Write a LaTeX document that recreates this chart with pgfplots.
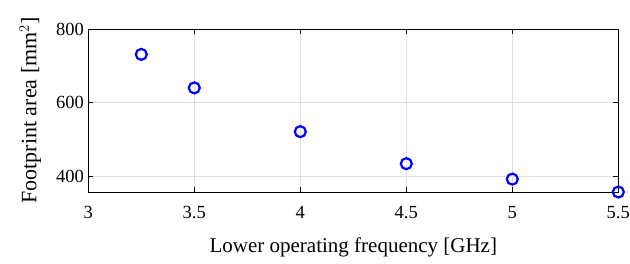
\documentclass[border=0pt]{standalone}
\usepackage{fontspec}
\setmainfont{Liberation Serif}
\usepackage{pgfplots}
\pgfplotsset{compat=1.18}
\begin{document}
\begin{tikzpicture}[x=1pt,y=1pt]
\begin{axis}[
  scale only axis,
  width=530pt, height=163pt,
  xmin=3, xmax=5.5, ymin=357, ymax=800,
  xtick={3,3.5,4,4.5,5,5.5},
  xticklabels={3,3.5,4,4.5,5,5.5},
  ytick={400,600,800},
  tick align=inside,
  major tick length=5pt,
  tick style={black, line width=0.8pt},
  axis line style={black, line width=0.9pt},
  grid=major,
  grid style={gray!25, line width=0.6pt},
  ticklabel style={font=\fontsize{18.5}{18.5}\selectfont},
  /pgf/number format/assume math mode=true,
  xticklabel style={yshift=-11pt},
  yticklabel style={xshift=-1pt},
  xlabel={Lower operating frequency [GHz]},
  ylabel={Footprint area [mm$^{2}$]},
  xlabel style={font=\fontsize{21}{21}\selectfont, yshift=-12pt},
  ylabel style={font=\fontsize{22}{22}\selectfont, yshift=8pt},
  clip=false,
]
\coordinate (O) at (rel axis cs:0,0);
\addplot[only marks, mark=o, mark size=5.5pt, mark options={draw=blue, line width=2.2pt}]
  coordinates {(3.25,731) (3.5,640) (4,521) (4.5,434) (5,392) (5.5,357)};
\end{axis}
\pgfresetboundingbox
\path[use as bounding box] ([shift={(-88.3pt,-71pt)}]O) rectangle ++(630pt,263pt);
\end{tikzpicture}
\end{document}
